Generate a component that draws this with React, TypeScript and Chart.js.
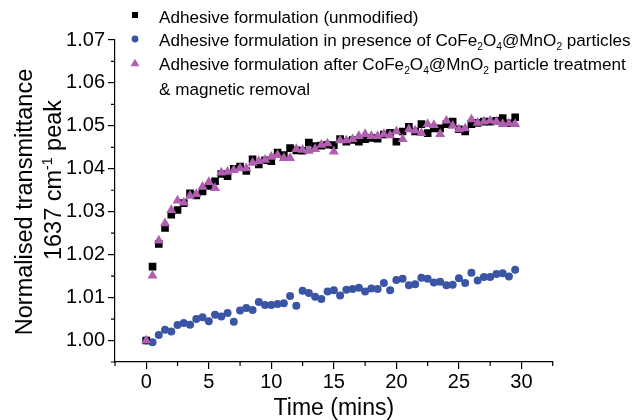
import React, { useEffect, useRef } from 'react';
import { Chart, registerables } from 'chart.js';

Chart.register(...registerables);

const FONT = '"Liberation Sans", Arial, sans-serif';
const PURPLE = '#b05eb0';
const BLUE = '#3a54a6';
const BLACK = '#000000';

// Time (mins)
const times = [
  0, 0.5, 1, 1.5, 2, 2.5, 3, 3.5, 4, 4.5, 5, 5.5, 6, 6.5, 7, 7.5, 8, 8.5, 9, 9.5,
  10, 10.5, 11, 11.5, 12, 12.5, 13, 13.5, 14, 14.5, 15, 15.5, 16, 16.5, 17, 17.5, 18, 18.5, 19, 19.5,
  20, 20.5, 21, 21.5, 22, 22.5, 23, 23.5, 24, 24.5, 25, 25.5, 26, 26.5, 27, 27.5, 28, 28.5, 29, 29.5,
];

// Adhesive formulation (unmodified) - black squares
const unmodified = [
  1.0000, 1.0172, 1.0225, 1.0262, 1.0293, 1.0304, 1.0320, 1.0343, 1.0338, 1.0347,
  1.0360, 1.0371, 1.0388, 1.0383, 1.0400, 1.0405, 1.0395, 1.0422, 1.0410, 1.0420,
  1.0418, 1.0438, 1.0432, 1.0448, 1.0443, 1.0442, 1.0461, 1.0453, 1.0454, 1.0456,
  1.0455, 1.0469, 1.0463, 1.0467, 1.0463, 1.0469, 1.0472, 1.0470, 1.0480, 1.0484,
  1.0463, 1.0487, 1.0498, 1.0487, 1.0504, 1.0483, 1.0494, 1.0494, 1.0504, 1.0510,
  1.0492, 1.0487, 1.0504, 1.0507, 1.0510, 1.0510, 1.0512, 1.0518, 1.0506, 1.0520,
];

// Adhesive formulation in presence of CoFe2O4@MnO2 particles - blue circles
const inPresence = [
  1.0000, 0.9996, 1.0013, 1.0025, 1.0021, 1.0036, 1.0041, 1.0037, 1.0050, 1.0054,
  1.0045, 1.0060, 1.0056, 1.0064, 1.0044, 1.0070, 1.0076, 1.0071, 1.0090, 1.0083,
  1.0083, 1.0085, 1.0087, 1.0104, 1.0081, 1.0116, 1.0111, 1.0102, 1.0097, 1.0114,
  1.0117, 1.0105, 1.0118, 1.0120, 1.0123, 1.0114, 1.0121, 1.0120, 1.0134, 1.0117,
  1.0141, 1.0144, 1.0129, 1.0131, 1.0146, 1.0144, 1.0135, 1.0137, 1.0129, 1.0130,
  1.0145, 1.0134, 1.0158, 1.0140, 1.0148, 1.0148, 1.0155, 1.0157, 1.0149, 1.0165,
];

// Adhesive formulation after particle treatment & magnetic removal - purple triangles
const afterTreatment = [
  1.0000, 1.0151, 1.0233, 1.0273, 1.0304, 1.0326, 1.0321, 1.0337, 1.0341, 1.0358,
  1.0369, 1.0355, 1.0391, 1.0393, 1.0397, 1.0401, 1.0401, 1.0414, 1.0418, 1.0421,
  1.0428, 1.0432, 1.0425, 1.0425, 1.0446, 1.0444, 1.0442, 1.0446, 1.0456, 1.0459,
  1.0440, 1.0466, 1.0466, 1.0469, 1.0476, 1.0481, 1.0476, 1.0476, 1.0481, 1.0478,
  1.0487, 1.0469, 1.0492, 1.0489, 1.0483, 1.0504, 1.0502, 1.0481, 1.0512, 1.0500,
  1.0492, 1.0494, 1.0515, 1.0507, 1.0510, 1.0512, 1.0510, 1.0504, 1.0506, 1.0504,
];

const xMajorTicks = [0, 5, 10, 15, 20, 25, 30];
const xMinorTicks = [-2.5, 2.5, 7.5, 12.5, 17.5, 22.5, 27.5, 32.5];
const yMajorTicks = [1.0, 1.01, 1.02, 1.03, 1.04, 1.05, 1.06, 1.07];
const yMinorTicks = [0.995, 1.005, 1.015, 1.025, 1.035, 1.045, 1.055, 1.065];

type Seg = { t: string; s?: 'sub' | 'sup' };

const legendRows: { marker: 'rect' | 'circle' | 'triangle' | null; color: string; segs: Seg[] }[] = [
  { marker: 'rect', color: BLACK, segs: [{ t: 'Adhesive formulation (unmodified)' }] },
  {
    marker: 'circle', color: BLUE,
    segs: [
      { t: 'Adhesive formulation in presence of CoFe' }, { t: '2', s: 'sub' }, { t: 'O' }, { t: '4', s: 'sub' },
      { t: '@MnO' }, { t: '2', s: 'sub' }, { t: ' particles' },
    ],
  },
  {
    marker: 'triangle', color: PURPLE,
    segs: [
      { t: 'Adhesive formulation after CoFe' }, { t: '2', s: 'sub' }, { t: 'O' }, { t: '4', s: 'sub' },
      { t: '@MnO' }, { t: '2', s: 'sub' }, { t: ' particle treatment' },
    ],
  },
  { marker: null, color: BLACK, segs: [{ t: '& magnetic removal' }] },
];

const yTitleLine1: Seg[] = [{ t: 'Normalised transmittance' }];
const yTitleLine2: Seg[] = [{ t: '1637 cm' }, { t: '-1', s: 'sup' }, { t: ' peak' }];
const xTitle = 'Time (mins)';

const SUB_SCALE = 0.6;

function measureRich(ctx: CanvasRenderingContext2D, segs: Seg[], size: number) {
  let w = 0;
  for (const seg of segs) {
    ctx.font = `${seg.s ? size * SUB_SCALE : size}px ${FONT}`;
    w += ctx.measureText(seg.t).width;
  }
  return w;
}

function drawRich(ctx: CanvasRenderingContext2D, segs: Seg[], x: number, y: number, size: number) {
  let cx = x;
  for (const seg of segs) {
    if (seg.s) {
      ctx.font = `${size * SUB_SCALE}px ${FONT}`;
      const dy = seg.s === 'sub' ? size * 0.22 : -size * 0.4;
      ctx.fillText(seg.t, cx, y + dy);
    } else {
      ctx.font = `${size}px ${FONT}`;
      ctx.fillText(seg.t, cx, y);
    }
    cx += ctx.measureText(seg.t).width;
  }
}

const decorPlugin = {
  id: 'decor',
  afterDraw(chart: any) {
    const ctx: CanvasRenderingContext2D = chart.ctx;
    const xs = chart.scales.x;
    const ys = chart.scales.y;
    const area = chart.chartArea;
    ctx.save();
    // minor ticks
    ctx.strokeStyle = '#000';
    ctx.lineWidth = 1.2;
    ctx.beginPath();
    for (const v of xMinorTicks) {
      const px = xs.getPixelForValue(v);
      ctx.moveTo(px, area.bottom);
      ctx.lineTo(px, area.bottom + 4);
    }
    for (const v of yMinorTicks) {
      const py = ys.getPixelForValue(v);
      ctx.moveTo(area.left, py);
      ctx.lineTo(area.left - 4, py);
    }
    ctx.stroke();

    // y title (two lines, rotated)
    ctx.fillStyle = '#000';
    ctx.textBaseline = 'alphabetic';
    ctx.textAlign = 'left';
    const ts = 23.5;
    const lines: [Seg[], number, number][] = [
      [yTitleLine1, 32, 202],
      [yTitleLine2, 61, 180],
    ];
    for (const [segs, bx, cy] of lines) {
      ctx.save();
      ctx.translate(bx, cy);
      ctx.rotate(-Math.PI / 2);
      const w = measureRich(ctx, segs, ts);
      drawRich(ctx, segs, -w / 2, 0, ts);
      ctx.restore();
    }

    // legend
    const ls = 17.1;
    const rowBase = [22.5, 46, 70, 95];
    const rowMid = [15, 39, 63, 88];
    legendRows.forEach((row, i) => {
      const mx = 135;
      const my = rowMid[i];
      ctx.fillStyle = row.color;
      if (row.marker === 'rect') {
        ctx.fillRect(mx - 3, my - 3, 6, 6);
      } else if (row.marker === 'circle') {
        ctx.beginPath();
        ctx.arc(mx, my, 3.4, 0, Math.PI * 2);
        ctx.fill();
      } else if (row.marker === 'triangle') {
        ctx.beginPath();
        ctx.moveTo(mx, my - 4.2);
        ctx.lineTo(mx + 4.5, my + 3.2);
        ctx.lineTo(mx - 4.5, my + 3.2);
        ctx.closePath();
        ctx.fill();
      }
      ctx.fillStyle = '#000';
      drawRich(ctx, row.segs, 159, rowBase[i], ls);
    });
    ctx.restore();
  },
};

export default function App() {
  const ref = useRef<HTMLCanvasElement | null>(null);
  useEffect(() => {
    document.body.style.margin = '0';
    const canvas = ref.current;
    if (!canvas) return;
    const mk = (ys: number[]) => times.map((t, i) => ({ x: t, y: ys[i] }));
    const chart = new Chart(canvas, {
      type: 'scatter',
      data: {
        datasets: [
          {
            label: 'after treatment',
            data: mk(afterTreatment),
            pointStyle: 'triangle',
            pointRadius: 5.8,
            pointBorderWidth: 0,
            backgroundColor: PURPLE,
            borderColor: PURPLE,
            order: 0,
          },
          {
            label: 'unmodified',
            data: mk(unmodified),
            pointStyle: 'rect',
            pointRadius: 5.4,
            pointBorderWidth: 0,
            backgroundColor: BLACK,
            borderColor: BLACK,
            order: 1,
          },
          {
            label: 'in presence',
            data: mk(inPresence),
            pointStyle: 'circle',
            pointRadius: 4,
            pointBorderWidth: 0,
            backgroundColor: BLUE,
            borderColor: BLUE,
            order: 2,
          },
        ],
      },
      options: {
        animation: false,
        responsive: false,
        devicePixelRatio: 1,
        layout: { padding: { top: 40, right: 85.3, left: 0, bottom: 0 } },
        plugins: { legend: { display: false }, tooltip: { enabled: false } },
        scales: {
          x: {
            type: 'linear',
            min: -2.5,
            max: 32.5,
            afterFit: (s: any) => { s.height = 58; },
            afterBuildTicks: (s: any) => { s.ticks = xMajorTicks.map((v) => ({ value: v })); },
            ticks: { color: '#000', font: { family: FONT, size: 20 }, padding: 1, maxRotation: 0 },
            grid: { display: true, drawOnChartArea: false, drawTicks: true, tickLength: 7, color: '#000', lineWidth: 1.2 },
            border: { display: true, color: '#000', width: 1.2 },
            title: {
              display: true, text: xTitle, color: '#000',
              font: { family: FONT, size: 23, lineHeight: 1 }, padding: { top: 0, bottom: 0 },
            },
          },
          y: {
            type: 'linear',
            min: 0.995,
            max: 1.07,
            afterFit: (s: any) => { s.width = 115; },
            afterBuildTicks: (s: any) => { s.ticks = yMajorTicks.map((v) => ({ value: v })); },
            ticks: {
              color: '#000', font: { family: FONT, size: 20 }, padding: 3,
              callback: (v: any) => Number(v).toFixed(2),
            },
            grid: { display: true, drawOnChartArea: false, drawTicks: true, tickLength: 7, color: '#000', lineWidth: 1.2 },
            border: { display: true, color: '#000', width: 1.2 },
          },
        },
      } as any,
      plugins: [decorPlugin],
    });
    return () => chart.destroy();
  }, []);
  return (
    <div style={{ width: 638, height: 420, background: '#fff' }}>
      <canvas ref={ref} width={638} height={420} style={{ display: 'block' }} />
    </div>
  );
}
